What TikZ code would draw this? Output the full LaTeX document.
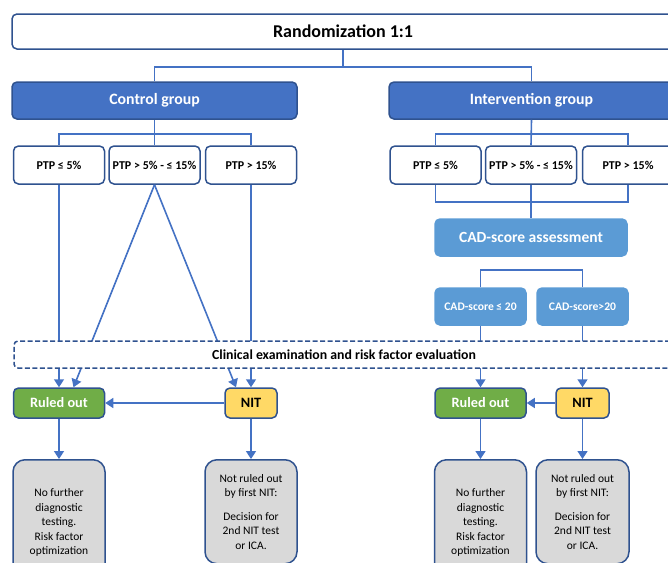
\documentclass[tikz,border=0pt]{standalone}
\usepackage{fontspec}
\setmainfont{Carlito}
\usetikzlibrary{arrows.meta}
\definecolor{linkblue}{HTML}{4472C4}
\definecolor{edgeblue}{HTML}{2F528F}
\definecolor{cadblue}{HTML}{5B9BD5}
\definecolor{okgreen}{HTML}{70AD47}
\definecolor{nityellow}{HTML}{FFD966}
\definecolor{boxgrey}{HTML}{D9D9D9}

\begin{document}
\begin{tikzpicture}[x=1pt, y=-1pt,
  every node/.style={rounded corners=5pt, draw=edgeblue, line width=1.5pt, align=center, inner sep=0pt},
  ptp/.style={fill=white, minimum width=91pt, minimum height=38pt, font=\bfseries\fontsize{12}{14}\selectfont},
  grp/.style={fill=linkblue, text=white, minimum width=285pt, minimum height=37pt, font=\bfseries\fontsize{15.8}{18}\selectfont},
  cad/.style={fill=cadblue, draw=cadblue, text=white, minimum height=37pt},
  outbox/.style={minimum height=30pt, font=\bfseries\fontsize{14.3}{17}\selectfont},
  greybox/.style={fill=boxgrey, rounded corners=12pt, anchor=north, font=\fontsize{11.5}{14.5}\selectfont},
  link/.style={draw=linkblue, line width=1.6pt},
  arr/.style={link, -{Triangle[width=10pt,length=8pt]}}]

\useasboundingbox (0,0) rectangle (668,562);
\clip (0,0) rectangle (668,562);

\node[fill=white, minimum width=662pt, minimum height=35pt, font=\bfseries\fontsize{18}{21}\selectfont] (rand) at (343,31.5) {Randomization 1:1};

\node[grp] (ctrl) at (154.5,100.5) {Control group};
\node[grp] (intv) at (531.5,100.5) {Intervention group};

\node[ptp] (p1) at (59,165) {PTP ≤ 5\%};
\node[ptp] (p2) at (154.5,165) {PTP > 5\% - ≤ 15\%};
\node[ptp] (p3) at (251,165) {PTP > 15\%};
\node[ptp] (q1) at (435.5,165) {PTP ≤ 5\%};
\node[ptp] (q2) at (531,165) {PTP > 5\% - ≤ 15\%};
\node[ptp] (q3) at (628,165) {PTP > 15\%};

\node[cad, minimum width=192pt, font=\bfseries\fontsize{15.5}{18}\selectfont] (cadas) at (531,237.5) {CAD-score assessment};
\node[cad, minimum width=91pt, font=\bfseries\fontsize{11.6}{14}\selectfont] (c1) at (480.5,306.5) {CAD-score ≤ 20};
\node[cad, minimum width=91pt, font=\bfseries\fontsize{11.6}{14}\selectfont] (c2) at (582.5,306.5) {CAD-score>20};

\node[outbox, fill=okgreen, text=white, minimum width=91pt] (r1) at (59,403) {Ruled out};
\node[outbox, fill=nityellow, minimum width=52pt] (n1) at (251,403) {NIT};
\node[outbox, fill=okgreen, text=white, minimum width=91pt] (r2) at (480.5,403) {Ruled out};
\node[outbox, fill=nityellow, minimum width=53pt] (n2) at (582.5,403) {NIT};

\node[greybox, minimum width=92pt, minimum height=126pt] (g1) at (59,459) {No further\\diagnostic\\testing.\\Risk factor\\optimization};
\node[greybox, minimum width=92pt, minimum height=104pt] (g2) at (251,459) {Not ruled out\\by first NIT:\\[9pt]Decision for\\2nd NIT test\\or ICA.};
\node[greybox, minimum width=92pt, minimum height=126pt] (g3) at (480.5,459) {No further\\diagnostic\\testing.\\Risk factor\\optimization};
\node[greybox, minimum width=93pt, minimum height=104pt] (g4) at (582.5,459) {Not ruled out\\by first NIT:\\[9pt]Decision for\\2nd NIT test\\or ICA.};

% Edges
\draw[link] (rand.south) -- ++(0,17) -| (ctrl.north);
\draw[link] (rand.south) -- ++(0,17) -| (intv.north);
\draw[link] (ctrl.south) -- ++(0,14) -| (p1.north);
\draw[link] (ctrl.south) -- ++(0,14) -| (p3.north);
\draw[link] (ctrl.south) -- (p2.north);
\draw[link] (intv.south) -- ++(0,14) -| (q1.north);
\draw[link] (intv.south) -- ++(0,14) -| (q3.north);
\draw[link] (intv.south) -- (q2.north);
\draw[link] (q1.south) -- ++(0,17) -| (q3.south);
\draw[link] (q2.south) -- (cadas.north);
\draw[link] (c1.north) -- ++(0,-17) -| (c2.north);

\draw[arr] (p1.south) -- (r1.north);
\draw[arr] (p2.south) -- ([xshift=14.5pt]r1.north);
\draw[arr] (p2.south) -- ([xshift=-15pt]n1.north);
\draw[arr] (p3.south) -- (n1.north);
\draw[arr] (c1.south) -- (r2.north);
\draw[arr] (c2.south) -- (n2.north);
\draw[arr] (n1.west) -- (r1.east);
\draw[arr] (n2.west) -- (r2.east);
\draw[arr] (r1.south) -- (g1.north);
\draw[arr] (n1.south) -- (g2.north);
\draw[arr] (r2.south) -- (g3.north);
\draw[arr] (n2.south) -- (g4.north);

\node[fill=white, dashed, dash pattern=on 5pt off 2.5pt, rounded corners=4pt, minimum width=660pt, minimum height=27pt, font=\bfseries\fontsize{13.8}{16}\selectfont] (clin) at (344,354.5) {Clinical examination and risk factor evaluation};

\end{tikzpicture}
\end{document}
